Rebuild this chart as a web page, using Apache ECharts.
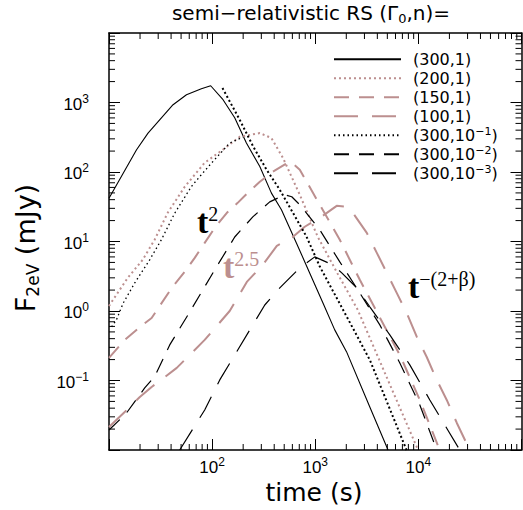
<!DOCTYPE html>
<html><head><meta charset="utf-8">
<script src="https://cdn.jsdelivr.net/npm/echarts@6/dist/echarts.min.js"></script>
<style>html,body{margin:0;padding:0;background:#fff}#c{width:523px;height:510px}</style>
</head><body><div id="c"></div>
<script>
// ---------------- data (time in s, flux in mJy) ----------------
const seriesNames = ['(300,1)', '(200,1)', '(150,1)', '(100,1)', '(300,10^-1)', '(300,10^-2)', '(300,10^-3)'];

const t_300_1 = [10, 18.5, 23.9, 41.8, 56.4, 78.7, 96.8, 127.6, 165.6, 215, 290, 376, 470, 658, 885, 1191, 1545, 2009, 3381, 5080];
const F_300_1 = [42, 209, 363, 929, 1294, 1578, 1742, 1096, 603, 261, 120, 49.7, 28.6, 9.46, 3.50, 1.29, 0.535, 0.260, 0.0416, 0.0100];

const t_200_1 = [10, 11.6, 15.2, 21.2, 27.7, 37.1, 54.2, 84.7, 127, 185, 290, 376, 488, 708, 1057, 1652, 2582, 5045, 9930];
const F_200_1 = [1.18, 1.65, 3.0, 5.45, 10.6, 25.9, 61.2, 136, 209, 321, 363, 308, 158, 47, 11.7, 3.42, 1.04, 0.103, 0.0100];

const t_150_1 = [10, 14.2, 21.2, 25.9, 31.0, 40.6, 54.2, 67.8, 84.7, 106, 139, 177, 221, 290, 387, 518, 592, 708, 1107, 1730, 2704, 4732, 6607, 10330, 16110];
const F_150_1 = [0.211, 0.384, 0.631, 0.794, 1.18, 2.15, 3.66, 5.82, 9.55, 15.7, 25.9, 36.0, 50.1, 72.3, 101, 131, 136, 108, 33.7, 10.6, 2.81, 0.59, 0.233, 0.0525, 0.0100];

const t_100_1 = [10, 14.2, 19.9, 25.9, 34.7, 45.4, 60.7, 84.7, 111, 148, 217, 310, 424, 605, 791, 1107, 1614, 2023, 2312, 3162, 3954, 4943, 6166, 7709, 9660, 12050, 15070, 18840, 23600, 31480];
const F_100_1 = [0.0214, 0.0352, 0.058, 0.0807, 0.112, 0.152, 0.233, 0.384, 0.61, 1.0, 2.62, 4.61, 8.65, 11.6, 16.3, 21.9, 32.6, 31.6, 25.9, 13.3, 6.87, 3.54, 1.82, 0.937, 0.424, 0.218, 0.102, 0.0525, 0.0245, 0.0100];

// (300,10^-1): rising branch and decaying branch
const t_300_m1_rise = [10.6, 11.8, 13.7, 17.7, 24.8, 32.2, 43.4, 63.0, 75.9, 98.4, 148, 199.5];
const F_300_m1_rise = [0.59, 0.745, 1.29, 2.51, 5.45, 10.6, 25.6, 61.8, 86.1, 134, 261, 318];
const t_300_m1_decay = [126, 185, 250, 337, 453, 610, 822, 1107, 2065, 3381, 7674];
const F_300_m1_decay = [1614, 565, 233, 108, 55.5, 25.6, 11.8, 4.36, 0.78, 0.198, 0.0100];

const t_300_m2 = [10, 14.7, 22.2, 27.7, 38.8, 60.7, 106, 165.6, 248, 362, 506, 592, 708, 1107, 1730, 2704, 4227, 6607, 10330, 15070];
const F_300_m2 = [0.0194, 0.0337, 0.0781, 0.1135, 0.325, 0.97, 3.91, 11.6, 22.6, 37.2, 47, 44, 33.7, 14.7, 5.09, 1.82, 0.631, 0.179, 0.0445, 0.0100];

const t_300_m3 = [48.5, 84.7, 118.6, 165.6, 232, 324, 453, 708, 989, 1479, 1807, 2529, 3381, 5284, 8260, 12910, 19280, 25180];
const F_300_m3 = [0.0100, 0.0377, 0.102, 0.233, 0.535, 1.22, 2.15, 4.18, 6.01, 4.61, 3.54, 2.15, 1.15, 0.453, 0.168, 0.0525, 0.0194, 0.0100];

// axes
const X_MIN = 10, X_MAX = 100000, Y_MIN = 0.01, Y_MAX = 10000;
const xLabelExps = [2, 3, 4];
const yLabelExps = [-1, 0, 1, 2, 3];
const xMinorTicks = [20,30,40,50,60,70,80,90, 200,300,400,500,600,700,800,900, 2000,3000,4000,5000,6000,7000,8000,9000, 20000,30000,40000,50000,60000,70000,80000,90000];
const yMinorTicks = [0.02,0.03,0.04,0.05,0.06,0.07,0.08,0.09, 0.2,0.3,0.4,0.5,0.6,0.7,0.8,0.9, 2,3,4,5,6,7,8,9, 20,30,40,50,60,70,80,90, 200,300,400,500,600,700,800,900, 2000,3000,4000,5000,6000,7000,8000,9000];

// ---------------- chart ----------------
const ROSY = '#BC8F8F', BLACK = '#000';
const SANS = '"DejaVu Sans", sans-serif';
const TICKF = '"Liberation Sans", Arial, sans-serif';
const SERIF = '"Liberation Serif", "Times New Roman", serif';

function pairs(t, F) { return t.map((v, i) => [v, F[i]]); }
function lineSeries(name, t, F, color, width, dash) {
  return {
    type: 'line', name: name, data: pairs(t, F), xAxisIndex: 0, yAxisIndex: 0,
    symbol: 'none', showSymbol: false, smooth: false, silent: true, clip: true,
    animation: false, emphasis: { disabled: true },
    lineStyle: { color: color, width: width, type: dash || 'solid', cap: 'butt' },
    itemStyle: { color: color }
  };
}
function expOf(v) { return Math.round(Math.log10(v)); }
function powLabel(e) { return '{b|10}{s|' + (e < 0 ? '\u2212' + (-e) : e) + '}'; }
const tickRich = {
  b: { fontFamily: TICKF, fontSize: 17, lineHeight: 20, color: '#000', verticalAlign: 'bottom' },
  s: { fontFamily: TICKF, fontSize: 12, lineHeight: 12, color: '#000', verticalAlign: 'top' }
};
const axisLineStyle = { color: '#000', width: 1.5 };
const majorTick = { show: true, inside: true, length: 11, lineStyle: { color: '#000', width: 1 } };

function minorTickSeries(dim, values) {
  return {
    type: 'custom', xAxisIndex: 0, yAxisIndex: 0, silent: true, animation: false, z: 1,
    data: values.map(v => dim === 'x' ? [v, 1] : [100, v]),
    encode: { x: 0, y: 1 },
    renderItem: function (params, api) {
      const L = 6;
      const st = { stroke: '#000', lineWidth: 1 };
      if (dim === 'x') {
        const v = api.value(0);
        const a = api.coord([v, Y_MIN]), b = api.coord([v, Y_MAX]);
        return { type: 'group', children: [
          { type: 'line', shape: { x1: a[0], y1: a[1], x2: a[0], y2: a[1] - L }, style: st },
          { type: 'line', shape: { x1: b[0], y1: b[1], x2: b[0], y2: b[1] + L }, style: st }
        ] };
      } else {
        const v = api.value(1);
        const a = api.coord([X_MIN, v]), b = api.coord([X_MAX, v]);
        return { type: 'group', children: [
          { type: 'line', shape: { x1: a[0], y1: a[1], x2: a[0] + L, y2: a[1] }, style: st },
          { type: 'line', shape: { x1: b[0], y1: b[1], x2: b[0] - L, y2: b[1] }, style: st }
        ] };
      }
    }
  };
}

const chart = echarts.init(document.getElementById('c'), null, { renderer: 'svg', width: 523, height: 510 });
const option = {
  animation: false,
  backgroundColor: '#fff',
  grid: { left: 109, right: 1.5, top: 33, bottom: 60, containLabel: false, outerBoundsMode: 'none' },
  xAxis: [
    { type: 'log', logBase: 10, min: X_MIN, max: X_MAX, splitNumber: 4, position: 'bottom',
      axisLine: { show: true, lineStyle: axisLineStyle }, axisTick: majorTick, splitLine: { show: false },
      axisLabel: { show: true, margin: 6, showMinLabel: true, showMaxLabel: true,
        formatter: v => xLabelExps.indexOf(expOf(v)) >= 0 ? powLabel(expOf(v)) : '', rich: tickRich } },
    { type: 'log', logBase: 10, min: X_MIN, max: X_MAX, splitNumber: 4, position: 'top',
      axisLine: { show: true, lineStyle: axisLineStyle }, axisTick: majorTick, splitLine: { show: false },
      axisLabel: { show: false } }
  ],
  yAxis: [
    { type: 'log', logBase: 10, min: Y_MIN, max: Y_MAX, splitNumber: 6, position: 'left',
      axisLine: { show: true, lineStyle: axisLineStyle }, axisTick: majorTick, splitLine: { show: false },
      axisLabel: { show: true, margin: 20, showMinLabel: true, showMaxLabel: true,
        formatter: v => yLabelExps.indexOf(expOf(v)) >= 0 ? powLabel(expOf(v)) : '', rich: tickRich } },
    { type: 'log', logBase: 10, min: Y_MIN, max: Y_MAX, splitNumber: 6, position: 'right',
      axisLine: { show: true, lineStyle: axisLineStyle }, axisTick: majorTick, splitLine: { show: false },
      axisLabel: { show: false } }
  ],
  legend: {
    show: true, orient: 'vertical', left: 333, top: 49.7, padding: 0,
    itemWidth: 67, itemHeight: 14, itemGap: 0, selectedMode: false,
    itemStyle: { opacity: 0, borderWidth: 0 },
    data: seriesNames,
    formatter: function (name) {
      const m = name.match(/^\((\d+),10\^-(\d)\)$/);
      if (m) return '{b|(' + m[1] + ',10}{s|\u2212' + m[2] + '}{b|)}';
      return '{b|' + name + '}';
    },
    textStyle: {
      fontFamily: SANS, fontSize: 16, lineHeight: 19, color: '#000', padding: [0, 0, 0, 7],
      rich: {
        b: { fontFamily: SANS, fontSize: 16, lineHeight: 19, color: '#000' },
        s: { fontFamily: SANS, fontSize: 11, lineHeight: 11, color: '#000', verticalAlign: 'top' }
      }
    }
  },
  graphic: [
    { type: 'text', x: 311, y: 13, silent: true,
      style: { text: '{a|semi\u2212relativistic RS (\u0393}{b|0}{a|,n)=}', textAlign: 'center', textVerticalAlign: 'middle',
        rich: { a: { fontFamily: SANS, fontSize: 20, lineHeight: 24, fill: '#000' },
                b: { fontFamily: SANS, fontSize: 13, lineHeight: 13, fill: '#000', verticalAlign: 'bottom' } } } },
    { type: 'text', x: 25, y: 248, rotation: Math.PI / 2, silent: true,
      style: { text: '{a|F}{b|2eV}{a| (mJy)}', textAlign: 'center', textVerticalAlign: 'middle',
        rich: { a: { fontFamily: SANS, fontSize: 27, lineHeight: 32, fill: '#000' },
                b: { fontFamily: SANS, fontSize: 17, lineHeight: 17, fill: '#000', verticalAlign: 'bottom' } } } },
    { type: 'text', x: 314, y: 492, silent: true,
      style: { text: 'time (s)', textAlign: 'center', textVerticalAlign: 'middle', fontFamily: SANS, fontSize: 25, lineHeight: 25, fill: '#000' } },
    { type: 'text', x: 197, y: 238, silent: true,
      style: { text: '{t|t}{s|2}', textAlign: 'left', textVerticalAlign: 'bottom',
        rich: { t: { fontFamily: SERIF, fontSize: 34, fontWeight: 'bold', lineHeight: 34, fill: '#000', verticalAlign: 'bottom' },
                s: { fontFamily: SERIF, fontSize: 20, lineHeight: 20, fill: '#000', verticalAlign: 'top' } } } },
    { type: 'text', x: 223, y: 283, silent: true,
      style: { text: '{t|t}{s|2.5}', textAlign: 'left', textVerticalAlign: 'bottom',
        rich: { t: { fontFamily: SERIF, fontSize: 34, fontWeight: 'bold', lineHeight: 34, fill: ROSY, verticalAlign: 'bottom' },
                s: { fontFamily: SERIF, fontSize: 20, lineHeight: 20, fill: ROSY, verticalAlign: 'top' } } } },
    { type: 'text', x: 408, y: 303, silent: true,
      style: { text: '{t|t}{s|\u2212(2+\u03B2)}', textAlign: 'left', textVerticalAlign: 'bottom',
        rich: { t: { fontFamily: SERIF, fontSize: 34, fontWeight: 'bold', lineHeight: 34, fill: '#000', verticalAlign: 'bottom' },
                s: { fontFamily: SERIF, fontSize: 20, lineHeight: 20, fill: '#000', verticalAlign: 'top' } } } }
  ],
  series: [
    minorTickSeries('x', xMinorTicks),
    minorTickSeries('y', yMinorTicks),
    lineSeries(seriesNames[0], t_300_1, F_300_1, BLACK, 1.1, 'solid'),
    lineSeries(seriesNames[1], t_200_1, F_200_1, ROSY, 2, [2, 3]),
    lineSeries(seriesNames[2], t_150_1, F_150_1, ROSY, 2, [15, 10]),
    lineSeries(seriesNames[3], t_100_1, F_100_1, ROSY, 2, [24, 14]),
    lineSeries(seriesNames[4], t_300_m1_rise, F_300_m1_rise, BLACK, 1.3, [1.5, 3]),
    lineSeries(seriesNames[4], t_300_m1_decay, F_300_m1_decay, BLACK, 2, [2, 2.5]),
    lineSeries(seriesNames[5], t_300_m2, F_300_m2, BLACK, 1.2, [15, 10]),
    lineSeries(seriesNames[6], t_300_m3, F_300_m3, BLACK, 1.2, [24, 14])
  ]
};
chart.setOption(option);
</script>
</body></html>
